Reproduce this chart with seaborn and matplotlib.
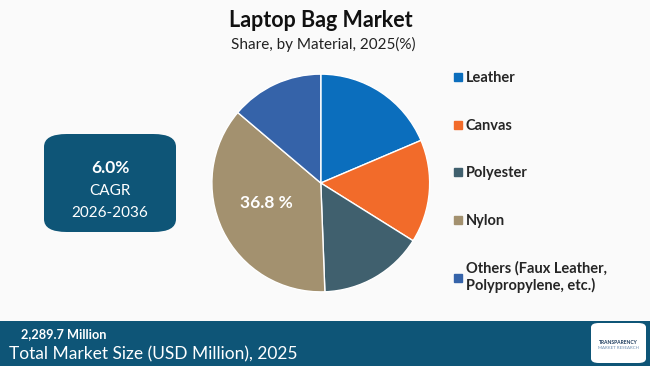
import matplotlib.pyplot as plt
import seaborn as sns
from matplotlib.lines import Line2D
from matplotlib.patches import FancyBboxPatch

sns.set_theme(style="white")
plt.rcParams['font.family'] = ['Lato', 'DejaVu Sans']

materials = ['Leather', 'Canvas', 'Polyester', 'Nylon',
             'Others (Faux Leather,\nPolypropylene, etc.)']
shares = [18.6, 15.3, 15.5, 36.8, 13.8]
colors = sns.color_palette(['#0b6ebd', '#f26b2a', '#40606e', '#a3916f', '#3563a9'])
bg = '#fafafa'
navy = '#0e5577'

fig = plt.figure(figsize=(6.5, 3.66), dpi=100, facecolor=bg)

# pie
ax = fig.add_axes([0.326, 0.202, 0.335, 0.596])
wedges, _ = ax.pie(shares, colors=colors, startangle=90, counterclock=False,
                   wedgeprops=dict(edgecolor='white', linewidth=1))
ax.set_xlim(-1, 1)
ax.set_ylim(-1, 1)
ax.set_aspect('equal')
ax.axis('off')
ax.text(-0.5, -0.18, f'{shares[3]} %', color='white', fontsize=12.5,
        fontweight='bold', ha='center', va='center')

# legend
handles = [Line2D([], [], marker='s', linestyle='', markersize=6, color=c)
           for c in colors]
fig.legend(handles, materials, loc='upper left', bbox_to_anchor=(0.685, 0.825),
           frameon=False, prop=dict(weight='bold', size=10.5), labelspacing=2.3,
           handletextpad=0.2, handlelength=0.7, borderpad=0)

# titles
fig.text(0.494, 0.945, 'Laptop Bag Market', ha='center', va='center',
         fontsize=15.5, fontweight='bold', color='#111111')
fig.text(0.497, 0.878, 'Share, by Material, 2025(%)', ha='center', va='center',
         fontsize=11, color='#222222')

# CAGR box
fig.patches.append(FancyBboxPatch((44 / 650, 1 - 232 / 366), 132 / 650, 98 / 366,
                                  boxstyle='round,pad=0,rounding_size=0.035',
                                  transform=fig.transFigure, facecolor=navy,
                                  edgecolor='none'))
fig.text(110 / 650, 1 - 168 / 366, '6.0%', ha='center', va='center',
         color='white', fontsize=12.5, fontweight='bold')
fig.text(110 / 650, 1 - 191 / 366, 'CAGR', ha='center', va='center',
         color='white', fontsize=11)
fig.text(110 / 650, 1 - 213 / 366, '2026-2036', ha='center', va='center',
         color='white', fontsize=11)

# bottom band
fig.patches.append(plt.Rectangle((0, 0), 1, 45 / 366, transform=fig.transFigure,
                                 facecolor=navy, edgecolor='none'))
fig.text(21 / 650, 1 - 334 / 366, '2,289.7 Million', ha='left', va='center',
         color='white', fontsize=9.2, fontweight='bold')
fig.text(9 / 650, 1 - 354 / 366, 'Total Market Size (USD Million), 2025',
         ha='left', va='center', color='white', fontsize=12.5)

# logo
fig.patches.append(FancyBboxPatch((591 / 650, 3 / 366), 55 / 650, 40 / 366,
                                  boxstyle='round,pad=0,rounding_size=0.012',
                                  transform=fig.transFigure, facecolor='white',
                                  edgecolor='none'))
fig.text(618.5 / 650, 1 - 342 / 366, 'TRANSPARENCY', ha='center', va='center',
         color='#1b3a5c', fontsize=3.6, fontweight='bold')
fig.text(618.5 / 650, 1 - 348 / 366, 'MARKET RESEARCH', ha='center', va='center',
         color='#6c8db0', fontsize=3.2)

fig.savefig('out.png', dpi=100, facecolor=bg)
